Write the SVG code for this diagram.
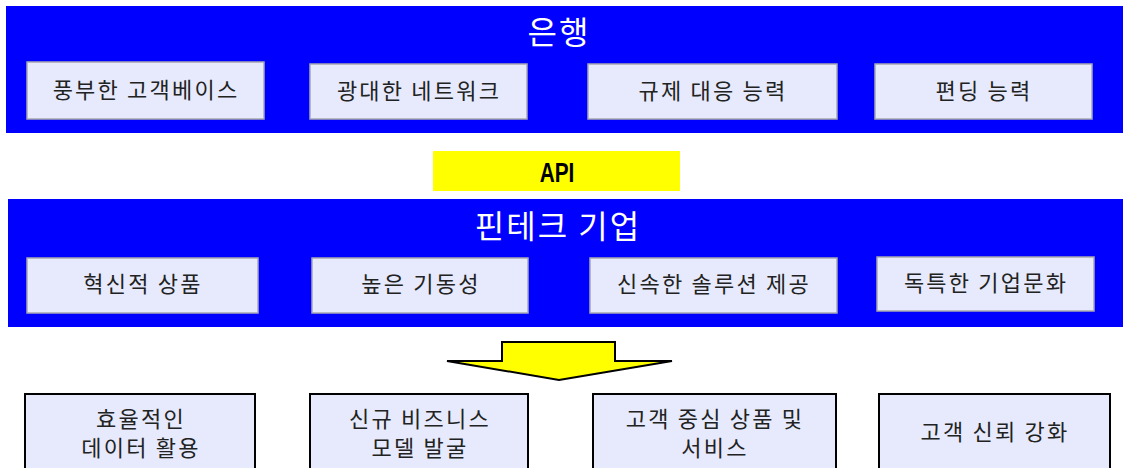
<svg xmlns="http://www.w3.org/2000/svg" width="1123" height="468" viewBox="0 0 1123 468">
<style>
.band{fill:#0000FF}
.box{fill:#E6EAFC;stroke:#A8A8B0;stroke-width:1.5}
.obox{fill:#E6EAFC;stroke:#000;stroke-width:2}
.t{font-family:"Noto Sans CJK KR","Noto Sans",sans-serif;font-size:22px;letter-spacing:2.2px;fill:#222;text-anchor:middle}
.title{font-family:"Noto Sans CJK KR","Noto Sans",sans-serif;font-size:32px;letter-spacing:2px;fill:#fff;text-anchor:middle}
.api{font-family:"Liberation Sans",Arial,sans-serif;font-weight:bold;font-size:26px;fill:#000;text-anchor:middle}
</style>
<rect width="1123" height="468" fill="#fff"/>
<g id="bank">
<rect class="band" x="6" y="6" width="1117" height="127"/>
<text class="title" x="559" y="44">은행</text>
</g>
<g id="bank-1"><rect class="box" x="27" y="62" width="237" height="57"/><text class="t" x="146" y="98">풍부한 고객베이스</text></g>
<g id="bank-2"><rect class="box" x="310" y="64" width="217" height="55"/><text class="t" x="419" y="99">광대한 네트워크</text></g>
<g id="bank-3"><rect class="box" x="588" y="64" width="249" height="55"/><text class="t" x="713" y="99">규제 대응 능력</text></g>
<g id="bank-4"><rect class="box" x="875" y="64" width="217" height="55"/><text class="t" x="984" y="99">편딩 능력</text></g>
<g id="api">
<rect x="433" y="151" width="247" height="40" fill="#FFFF00"/>
<text class="api" transform="translate(557,182) scale(0.8,1.05)">API</text>
</g>
<g id="fintech">
<rect class="band" x="8" y="199" width="1115" height="128"/>
<text class="title" x="558" y="238">핀테크 기업</text>
</g>
<g id="fin-1"><rect class="box" x="27" y="258" width="231" height="55"/><text class="t" x="143" y="292">혁신적 상품</text></g>
<g id="fin-2"><rect class="box" x="312" y="258" width="216" height="55"/><text class="t" x="421" y="292">높은 기동성</text></g>
<g id="fin-3"><rect class="box" x="590" y="258" width="247" height="55"/><text class="t" x="714" y="292">신속한 솔루션 제공</text></g>
<g id="fin-4"><rect class="box" x="877" y="257" width="217" height="54"/><text class="t" x="986" y="291">독특한 기업문화</text></g>
<g id="connectors">
<polygon points="502,342 615,342 615,361 672,361 559,380 447,361 502,361" fill="#FFFF00" stroke="#000" stroke-width="2" stroke-linejoin="miter"/>
</g>
<g id="out-1"><rect class="obox" x="25" y="394" width="230" height="84"/><text class="t" x="141" y="427">효율적인</text><text class="t" x="141" y="456">데이터 활용</text></g>
<g id="out-2"><rect class="obox" x="310" y="394" width="218" height="84"/><text class="t" x="420" y="427">신규 비즈니스</text><text class="t" x="420" y="456">모델 발굴</text></g>
<g id="out-3"><rect class="obox" x="593" y="394" width="243" height="84"/><text class="t" x="715" y="427">고객 중심 상품 및</text><text class="t" x="715" y="456">서비스</text></g>
<g id="out-4"><rect class="obox" x="879" y="394" width="231" height="84"/><text class="t" x="995" y="440">고객 신뢰 강화</text></g>
</svg>
